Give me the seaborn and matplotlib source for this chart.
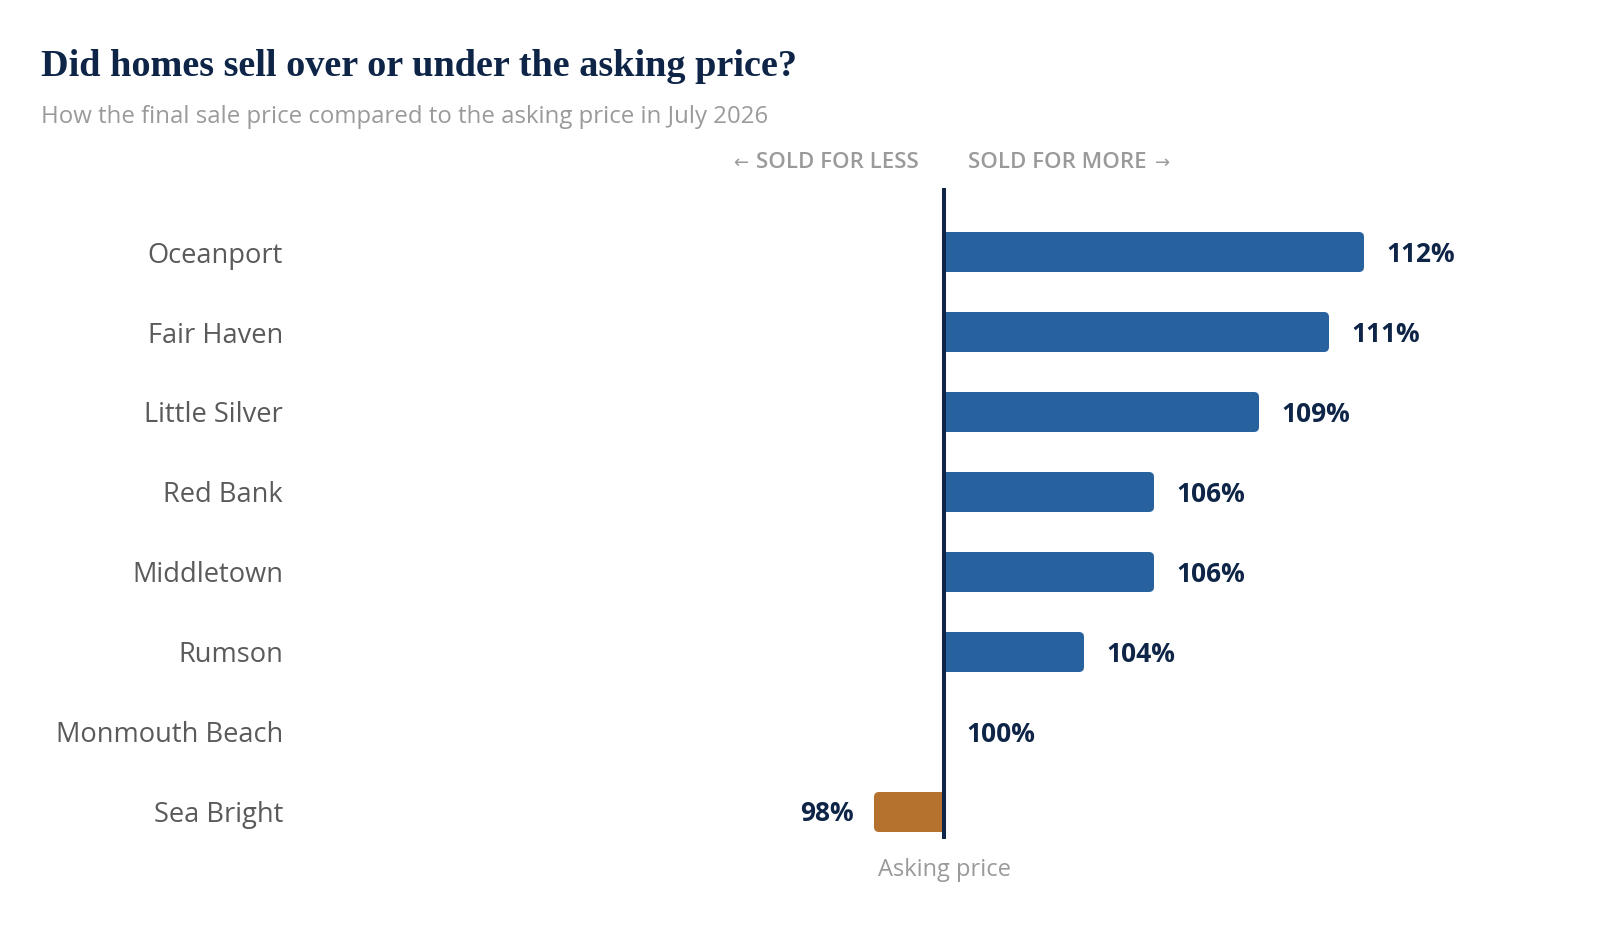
import numpy as np
import pandas as pd
import matplotlib
matplotlib.use("Agg")
import matplotlib.pyplot as plt
import seaborn as sns
from matplotlib.patches import FancyBboxPatch, Rectangle

# ---- data ----
towns = ["Oceanport", "Fair Haven", "Little Silver", "Red Bank",
         "Middletown", "Rumson", "Monmouth Beach", "Sea Bright"]
sale_to_list = [112, 111, 109, 106, 106, 104, 100, 98]
asking_pct = 100

title = "Did homes sell over or under the asking price?"
subtitle = "How the final sale price compared to the asking price in July 2026"
less_text = "SOLD FOR LESS"
more_text = "SOLD FOR MORE"
ref_label = "Asking price"

# ---- style ----
BLUE = "#27629f"
ORANGE = "#b5722f"
NAVY = "#0e2547"
GREY = "#9a9a9a"
LABEL_GREY = "#5a5a5a"

sns.set_theme(style="white")
plt.rcParams["font.family"] = ["Open Sans", "DejaVu Sans"]

W, H = 1600, 936
fig = plt.figure(figsize=(W / 100, H / 100), dpi=100)
fig.patch.set_facecolor("white")

ax_left, ax_right, ax_top, ax_bot = 300, 1560, 188, 839
zero_px = 944
px_per_pct = 35.0
ax = fig.add_axes([ax_left / W, 1 - ax_bot / H, (ax_right - ax_left) / W, (ax_bot - ax_top) / H])

df = pd.DataFrame({
    "town": towns,
    "diff": np.array(sale_to_list, dtype=float) - asking_pct,
})
df["dir"] = np.where(df["diff"] >= 0, "over", "under")

sns.barplot(data=df, x="diff", y="town", hue="dir", orient="h",
            palette={"over": BLUE, "under": ORANGE}, width=0.5,
            dodge=False, legend=False, saturation=1, ax=ax, zorder=2)

ax.set_xlim((ax_left - zero_px) / px_per_pct, (ax_right - zero_px) / px_per_pct)
ax.set_ylim(len(towns) - 1 + 27 / 80, -64 / 80)

# rounded outer corners
r_x = 5 / px_per_pct
r_y = 5 / 80
for p in list(ax.patches):
    x, y, w, h = p.get_x(), p.get_y(), p.get_width(), p.get_height()
    if abs(w) < 1e-9:
        continue
    left, right = min(x, x + w), max(x, x + w)
    if w > 0:
        nl, nr = left - r_x, right
    else:
        nl, nr = left, right + r_x
    fb = FancyBboxPatch((nl, y), nr - nl, h,
                        boxstyle=f"round,pad=0,rounding_size={r_x}",
                        mutation_aspect=r_y / r_x,
                        facecolor=p.get_facecolor(), edgecolor="none",
                        linewidth=0, zorder=2)
    ax.add_patch(fb)
    clip = Rectangle((left, y), right - left, h, transform=ax.transData)
    fb.set_clip_path(clip)
    p.remove()

ax.axvline(0, color=NAVY, lw=2.9, zorder=5)

for s in ax.spines.values():
    s.set_visible(False)
ax.set_xticks([])
ax.set_xlabel("")
ax.set_ylabel("")
ax.tick_params(axis="y", length=0, pad=12.2, labelsize=19.6, labelcolor=LABEL_GREY)

# value labels
for i, (d, v) in enumerate(zip(df["diff"], sale_to_list)):
    if d >= 0:
        ax.annotate(f"{v}%", xy=(d, i), xytext=(22, -2), textcoords="offset pixels",
                    ha="left", va="center", fontsize=19, fontweight="bold", color=NAVY)
    else:
        ax.annotate(f"{v}%", xy=(d, i), xytext=(-20, -2), textcoords="offset pixels",
                    ha="right", va="center", fontsize=19, fontweight="bold", color=NAVY)

# reference labels
ax.annotate(ref_label, xy=(0, 0), xycoords=("data", "axes fraction"),
            xytext=(0, -31), textcoords="offset pixels", ha="center", va="center",
            fontsize=17, color=GREY)

# direction headers (text + small thin arrows)
less_t = ax.annotate(less_text, xy=(0, 1), xycoords=("data", "axes fraction"),
                     xytext=(-25, 20), textcoords="offset pixels", ha="right", va="baseline",
                     fontsize=16, fontweight="semibold", color=GREY, annotation_clip=False)
more_t = ax.annotate(more_text, xy=(0, 1), xycoords=("data", "axes fraction"),
                     xytext=(24, 20), textcoords="offset pixels", ha="left", va="baseline",
                     fontsize=16, fontweight="semibold", color=GREY, annotation_clip=False)
fig.canvas.draw()
r = fig.canvas.get_renderer()
bl = less_t.get_window_extent(r)
bm = more_t.get_window_extent(r)
fig.text((bl.x0 - 8) / W, 1 - 168 / H, "\u2190", ha="right", va="baseline",
         fontsize=13, color=GREY, family=["DejaVu Sans"])
fig.text((bm.x1 + 8) / W, 1 - 168 / H, "\u2192", ha="left", va="baseline",
         fontsize=13, color=GREY, family=["DejaVu Sans"])

# title & subtitle
fig.text(41 / W, 1 - 76 / H, title, ha="left", va="baseline",
         fontsize=27.5, fontweight="bold", color=NAVY,
         family=["Liberation Serif", "DejaVu Serif"])
fig.text(41 / W, 1 - 123 / H, subtitle, ha="left", va="baseline",
         fontsize=17.3, color=GREY)

fig.savefig("out.png", dpi=100, facecolor="white")
